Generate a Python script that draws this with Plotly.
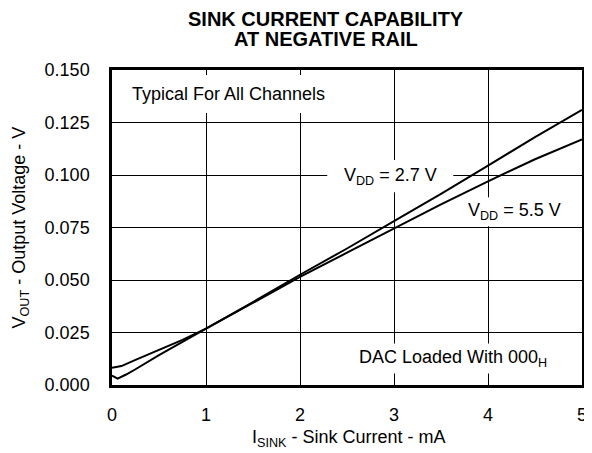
import plotly.graph_objects as go

# Data
x_27 = [0, 0.06, 0.15, 0.25, 0.5, 0.75, 1, 1.5, 2, 2.5, 3, 3.5, 4, 4.5, 5]
y_27 = [0.0045, 0.003, 0.005, 0.0075, 0.0142, 0.0205, 0.027, 0.0395, 0.0525, 0.065, 0.078, 0.091, 0.1045, 0.118, 0.131]

x_55 = [0, 0.1, 0.25, 0.5, 0.75, 1, 1.5, 2, 2.5, 3, 3.5, 4, 4.5, 5]
y_55 = [0.0082, 0.009, 0.012, 0.0168, 0.0215, 0.0268, 0.039, 0.0515, 0.063, 0.0745, 0.086, 0.097, 0.1075, 0.117]

x_ticks = [0, 1, 2, 3, 4, 5]
y_ticks = [0.000, 0.025, 0.050, 0.075, 0.100, 0.125, 0.150]

title_lines = ["SINK CURRENT CAPABILITY", "AT NEGATIVE RAIL"]

FONT = "Arial, Liberation Sans, sans-serif"
FS = 18

fig = go.Figure()
fig.add_trace(go.Scatter(x=x_27, y=y_27, mode="lines", line=dict(color="black", width=2), showlegend=False))
fig.add_trace(go.Scatter(x=x_55, y=y_55, mode="lines", line=dict(color="black", width=2), showlegend=False))

# page body has an 8px margin, so the figure is sized to fill the rest of the window
fig.update_layout(
    width=584, height=445,
    margin=dict(l=104, r=5, t=62, b=68),
    paper_bgcolor="white", plot_bgcolor="white",
    font=dict(family=FONT, size=FS, color="black"),
    showlegend=False,
)
fig.update_xaxes(range=[0, 5], tickvals=x_ticks, ticktext=[str(v) for v in x_ticks],
                 showgrid=True, gridcolor="black", gridwidth=1,
                 showline=True, linecolor="black", linewidth=2.5, mirror=True,
                 zeroline=False, ticks="outside", ticklen=12, tickcolor="rgba(0,0,0,0)",
                 tickfont=dict(family=FONT, size=FS))
fig.update_yaxes(range=[0, 0.150], tickvals=y_ticks, ticktext=[f"{v:.3f}" for v in y_ticks],
                 showgrid=True, gridcolor="black", gridwidth=1,
                 showline=True, linecolor="black", linewidth=2.5, mirror=True,
                 zeroline=False, ticks="outside", ticklen=16, tickcolor="rgba(0,0,0,0)",
                 tickfont=dict(family=FONT, size=FS))

# Title (two lines) and axis titles
for line, yy in zip(title_lines, [1.162, 1.097]):
    fig.add_annotation(x=0.4547, y=yy, xref="paper", yref="paper",
                       text=f"<b>{line}</b>",
                       showarrow=False, xanchor="center", yanchor="middle",
                       font=dict(family=FONT, size=20, color="black"))
fig.add_annotation(x=-0.1937, y=0.5, xref="paper", yref="paper", textangle=-90,
                   text="V<sub>OUT</sub> - Output Voltage - V",
                   showarrow=False, xanchor="center", yanchor="middle",
                   font=dict(family=FONT, size=FS, color="black"))
fig.add_annotation(x=0.503, y=-0.170, xref="paper", yref="paper",
                   text="I<sub>SINK</sub> - Sink Current - mA",
                   showarrow=False, xanchor="center", yanchor="middle",
                   font=dict(family=FONT, size=FS, color="black"))

# In-plot labels; white boxes interrupt the grid but sit beneath the curves
annots = [
    dict(text="Typical For All Channels", box=(0.02, 2.45, 0.1295, 0.1476)),
    dict(text="V<sub>DD</sub> = 2.7 V", box=(2.29, 3.63, 0.0918, 0.1071)),
    dict(text="V<sub>DD</sub> = 5.5 V", box=(3.63, 4.93, 0.0756, 0.0894)),
    dict(text="DAC Loaded With 000<sub>H</sub>", box=(2.45, 4.81, 0.0055, 0.0198)),
]
for a in annots:
    x0, x1, y0, y1 = a["box"]
    fig.add_shape(type="rect", xref="x", yref="y", x0=x0, x1=x1, y0=y0, y1=y1,
                  fillcolor="white", line=dict(width=0), layer="between")
    fig.add_annotation(x=(x0 + x1) / 2, y=(y0 + y1) / 2, xref="x", yref="y", text=a["text"],
                       xanchor="center", yanchor="middle", showarrow=False,
                       font=dict(family=FONT, size=FS, color="black"))

fig.write_html("out.html")
